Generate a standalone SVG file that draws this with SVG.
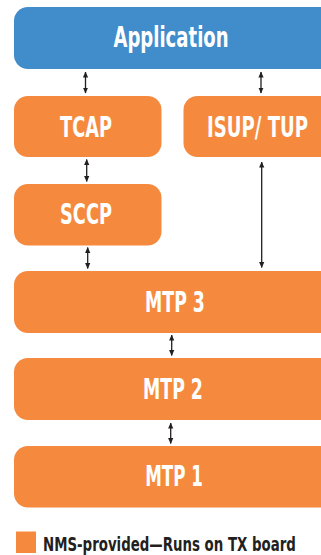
<svg xmlns="http://www.w3.org/2000/svg" width="321" height="555" viewBox="0 0 321 555">
  <style>
    .blue { fill: #418CCB; }
    .orange { fill: #F58A3F; }
    .label { font-family: "DejaVu Sans Condensed", "Liberation Sans", Arial, sans-serif; font-stretch: condensed; font-weight: bold; font-size: 29px; fill: #FFFFFF; text-anchor: middle; }
    .legend { font-family: "DejaVu Sans Condensed", "Liberation Sans", Arial, sans-serif; font-stretch: condensed; font-weight: bold; font-size: 19px; fill: #231F20; }
    .link { stroke: #231F20; stroke-width: 1.3; fill: none; marker-start: url(#head); marker-end: url(#head); }
  </style>
  <defs>
    <marker id="head" viewBox="0 0 6 6" refX="5.5" refY="3" markerWidth="6" markerHeight="6" markerUnits="userSpaceOnUse" orient="auto-start-reverse">
      <path d="M0,0.4 L6,3 L0,5.6 Z" fill="#231F20"/>
    </marker>
  </defs>

  <!-- labels are drawn narrow: a horizontal scale of 0.72 (0.8 for the legend) -->
  <g id="application">
    <rect class="blue" x="14" y="7" width="330" height="62" rx="14"/>
    <text class="label" transform="translate(171 47) scale(0.72 1)" textLength="160" lengthAdjust="spacingAndGlyphs">Application</text>
  </g>

  <g id="tcap">
    <rect class="orange" x="14" y="96" width="147.5" height="61" rx="14"/>
    <text class="label" transform="translate(86 137) scale(0.72 1)" textLength="72" lengthAdjust="spacingAndGlyphs">TCAP</text>
  </g>

  <g id="isup-tup">
    <rect class="orange" x="183.5" y="96" width="160" height="61" rx="14"/>
    <text class="label" transform="translate(257.5 137) scale(0.72 1)" textLength="140" lengthAdjust="spacingAndGlyphs">ISUP/ TUP</text>
  </g>

  <g id="sccp">
    <rect class="orange" x="14" y="184" width="147.5" height="61.5" rx="14"/>
    <text class="label" transform="translate(86 224) scale(0.72 1)" textLength="72" lengthAdjust="spacingAndGlyphs">SCCP</text>
  </g>

  <g id="mtp3">
    <rect class="orange" x="14" y="271" width="330" height="62" rx="14"/>
    <text class="label" transform="translate(175 312) scale(0.72 1)" textLength="83" lengthAdjust="spacingAndGlyphs">MTP 3</text>
  </g>

  <g id="mtp2">
    <rect class="orange" x="14" y="358" width="330" height="62" rx="14"/>
    <text class="label" transform="translate(173 399) scale(0.72 1)" textLength="83" lengthAdjust="spacingAndGlyphs">MTP 2</text>
  </g>

  <g id="mtp1">
    <rect class="orange" x="14" y="446" width="330" height="61.5" rx="14"/>
    <text class="label" transform="translate(174 486) scale(0.72 1)" textLength="80" lengthAdjust="spacingAndGlyphs">MTP 1</text>
  </g>

  <g id="connectors">
    <line class="link" x1="85.5" y1="72" x2="85.5" y2="93"/>
    <line class="link" x1="261" y1="72" x2="261" y2="93"/>
    <line class="link" x1="86.7" y1="159.5" x2="86.7" y2="181.5"/>
    <line class="link" x1="261.7" y1="162" x2="261.7" y2="267.5"/>
    <line class="link" x1="87.7" y1="247.5" x2="87.7" y2="268.5"/>
    <line class="link" x1="171.7" y1="335" x2="171.7" y2="355.5"/>
    <line class="link" x1="170.7" y1="423" x2="170.7" y2="443.5"/>
  </g>

  <g id="legend">
    <rect class="orange" x="16" y="531.5" width="20" height="21.5"/>
    <text class="legend" transform="translate(43 551) scale(0.8 1)" textLength="316" lengthAdjust="spacingAndGlyphs">NMS-provided—Runs on TX board</text>
  </g>
</svg>
